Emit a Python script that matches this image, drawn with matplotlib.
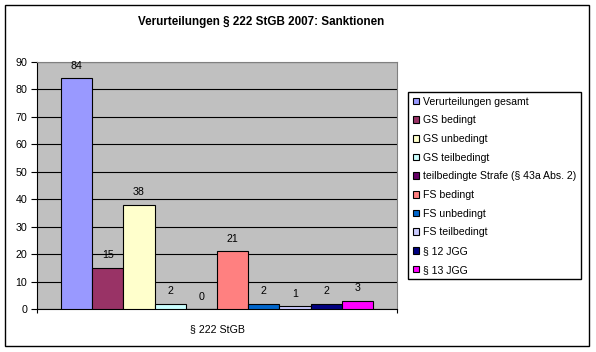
import matplotlib
matplotlib.use("Agg")
import matplotlib.pyplot as plt
from matplotlib.patches import Rectangle

plt.rcParams['font.family'] = ['Liberation Sans', 'DejaVu Sans']

title = "Verurteilungen § 222 StGB 2007: Sanktionen"
category = "§ 222 StGB"
series = ["Verurteilungen gesamt", "GS bedingt", "GS unbedingt", "GS teilbedingt",
          "teilbedingte Strafe (§ 43a Abs. 2)", "FS bedingt", "FS unbedingt",
          "FS teilbedingt", "§ 12 JGG", "§ 13 JGG"]
values = [84, 15, 38, 2, 0, 21, 2, 1, 2, 3]
colors = ["#9999FF", "#993366", "#FFFFCC", "#CCFFFF", "#660066", "#FF8080",
          "#0066CC", "#CCCCFF", "#000080", "#FF00FF"]
yticks = [0, 10, 20, 30, 40, 50, 60, 70, 80, 90]

W, H = 596, 352
fig = plt.figure(figsize=(W / 100, H / 100), dpi=100)

def px(x0, y0, x1, y1):
    return [x0 / W, 1 - y1 / H, (x1 - x0) / W, (y1 - y0) / H]

ax = fig.add_axes(px(37, 62, 397, 309))
ax.set_facecolor("#C0C0C0")

n = len(values)
half = 360 / 31.2 / 2
handles = []
for i, (v, c, s) in enumerate(zip(values, colors, series)):
    xc = i - (n - 1) / 2
    b = ax.bar(xc, v, width=1.0, color=c, edgecolor="black", linewidth=0.8,
               label=s, zorder=3)
    handles.append(b)
    ax.annotate(str(v), (xc, v), xytext=(0, 9.0), textcoords="offset points",
                ha="center", va="center", fontsize=7.7, zorder=4)

ax.set_xlim(-half, half)
ax.set_ylim(0, 90)
ax.set_yticks(yticks)
ax.yaxis.grid(True, color="black", linewidth=0.8, zorder=1)
ax.set_axisbelow(True)
ax.tick_params(axis="y", direction="out", length=4, width=0.8, labelsize=7.7, pad=3)
ax.set_xticks([-half, half])
ax.set_xticklabels(["", ""])
ax.tick_params(axis="x", direction="out", length=3, width=0.8)
ax.set_xticks([0], [category], minor=True)
ax.tick_params(axis="x", which="minor", length=0, labelsize=7.7, pad=11)
for sp in ["left", "bottom"]:
    ax.spines[sp].set_color("black")
    ax.spines[sp].set_linewidth(0.8)
for sp in ["top", "right"]:
    ax.spines[sp].set_color("#808080")
    ax.spines[sp].set_linewidth(0.8)

fig.text(261 / W, 1 - 22 / H, title, ha="center", va="center",
         fontsize=8.4, fontweight="bold")

leg = fig.legend(handles=handles, labels=series, loc="upper left",
                 bbox_to_anchor=(408 / W, 1 - 92 / H), borderaxespad=0,
                 fontsize=7.6, frameon=True, fancybox=False, edgecolor="black",
                 framealpha=1, handlelength=0.6, handleheight=0.6,
                 handletextpad=0.35, labelspacing=0.82, borderpad=0.45)
leg.get_frame().set_linewidth(1.0)

fig.patches.append(Rectangle((5 / W, 1 - 346 / H), 584 / W, 341 / H,
                             transform=fig.transFigure, fill=False,
                             edgecolor="black", linewidth=1.0))

fig.savefig("out.png", dpi=100)
